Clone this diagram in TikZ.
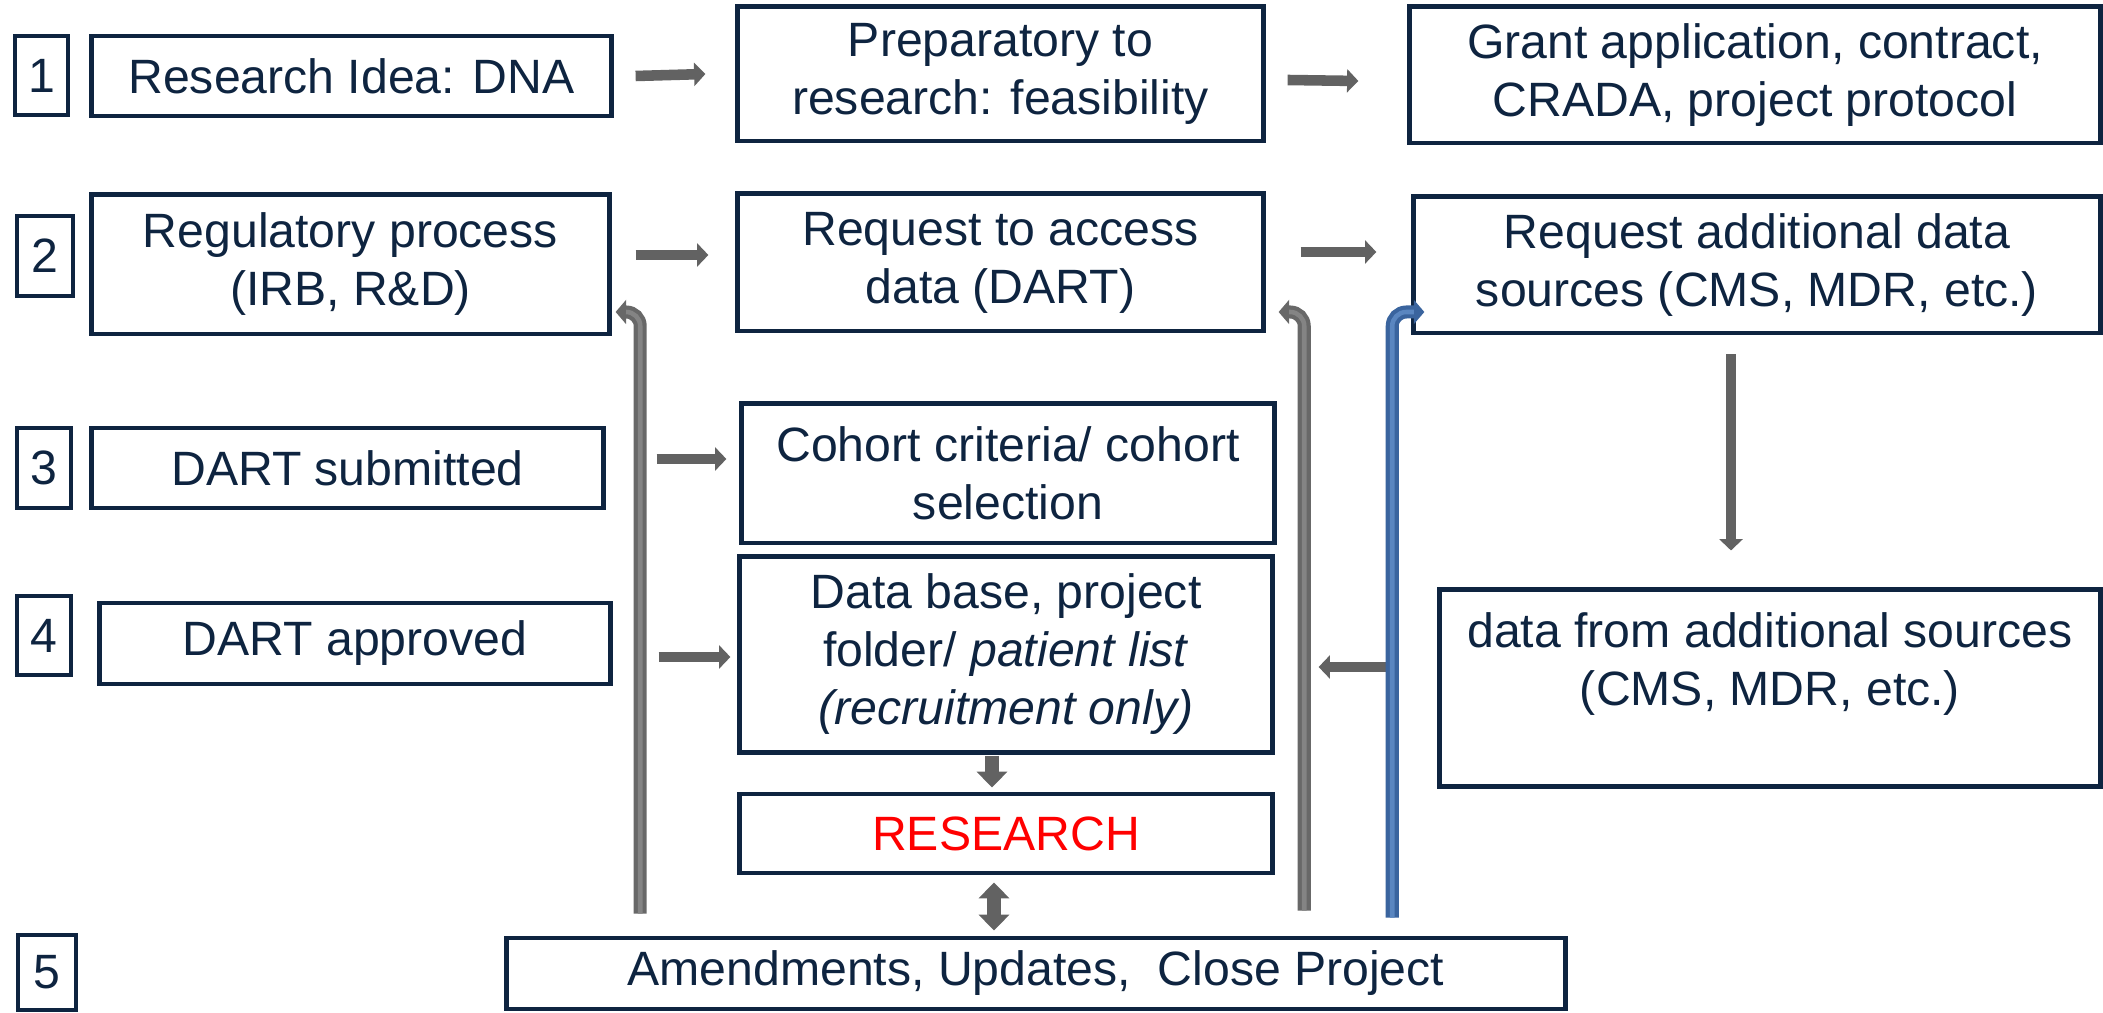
\documentclass[tikz,border=0pt]{standalone}
\usepackage{fontspec}
\setmainfont{Liberation Sans}
\usepackage{tikz}
\usetikzlibrary{calc,arrows.meta,positioning}
\definecolor{navy}{RGB}{14,36,64}
\definecolor{arrgray}{RGB}{98,98,98}
\definecolor{linegray}{RGB}{104,104,104}
\definecolor{linegrayhi}{RGB}{132,132,132}
\definecolor{lineblue}{RGB}{58,100,158}
\definecolor{linebluehi}{RGB}{90,134,192}
\tikzset{
  box/.style={draw=navy,line width=1.4pt,text=navy,align=center,inner sep=2pt,font=\fontsize{13.7}{16.5}\selectfont},
  harr/.style={draw=arrgray,line width=3pt,-{Triangle[width=6.5pt,length=3.2pt]}},
  varr/.style={draw=arrgray,line width=3.8pt,-{Triangle[width=8.5pt,length=4.5pt]}},
  fbline/.style 2 args={draw=#1,line width=3.7pt,rounded corners=4pt,-{Triangle[width=6.8pt,length=3pt]},
    postaction={draw=#2,line width=1.3pt,-,shorten >=3pt}}
}
\begin{document}
\begin{tikzpicture}[x=0.01cm,y=-0.01cm]
              \useasboundingbox(0,0)rectangle(2103,1013);
              \node[box,minimum width=0.53cm,minimum height=0.79cm](n1)at(41.5,75.5){1};
              \node[box,minimum width=5.19cm,minimum height=0.80cm](idea)at(351.5,76){Research Idea: DNA};
              \node[box,minimum width=5.25cm,minimum height=1.34cm](prep)at(1000.5,74){Preparatory to\\research: feasibility};
              \node[box,minimum width=6.90cm,minimum height=1.36cm](grant)at(1755,75){Grant application, contract,\\CRADA, project protocol};
              \node[box,minimum width=0.56cm,minimum height=0.80cm](n2)at(45,256){2};
              \node[box,minimum width=5.17cm,minimum height=1.39cm](reg)at(350.5,264.5){Regulatory process\\(IRB, R\&D)};
              \node[box,minimum width=5.25cm,minimum height=1.37cm](access)at(1000.5,262.5){Request to access\\data (DART)};
              \node[box,minimum width=6.86cm,minimum height=1.36cm](addreq)at(1757,265){Request additional data\\sources (CMS, MDR, etc.)};
              \node[box,minimum width=0.54cm,minimum height=0.80cm](n3)at(44,468){3};
              \node[box,minimum width=5.11cm,minimum height=0.80cm](submitted)at(347.5,468){DART submitted};
              \node[box,minimum width=5.32cm,minimum height=1.39cm](cohort)at(1008,473.5){Cohort criteria/ cohort\\selection};
              \node[box,minimum width=0.54cm,minimum height=0.79cm](n4)at(44,635.5){4};
              \node[box,minimum width=5.10cm,minimum height=0.81cm](approved)at(355,643.5){DART approved};
              \node[box,minimum width=5.32cm,minimum height=1.95cm](database)at(1006,654.5){Data base, project\\folder/ \textit{patient list}\\\textit{(recruitment only)}};
              \node[box,minimum width=5.32cm,minimum height=0.79cm,text=red](research)at(1006,833.5){RESEARCH};
              \node[box,minimum width=6.60cm,minimum height=1.96cm](addsrc)at(1770,688){data from additional sources\\(CMS, MDR, etc.)\\\mbox{}};
              \node[box,minimum width=0.58cm,minimum height=0.75cm](n5)at(47,972.5){5};
              \node[box,minimum width=10.58cm,minimum height=0.71cm](amend)at(1036,973.5){Amendments, Updates,\ \ Close Project};
              \draw[harr]($(idea.east)+(22,0)$)--($(prep.west)+(-30,0)$);
              \draw[harr]($(prep.east)+(22,6)$)--($(grant.west)+(-49,6)$);
              \draw[harr]($(reg.east)+(24,-9.5)$)--($(access.west)+(-27,-7.5)$);
              \draw[harr]($(access.east)+(35,-10.5)$)--($(addreq.west)+(-35,-13)$);
              \draw[harr]($(submitted.east)+(51,-9)$)--($(cohort.west)+(-13,-14.5)$);
              \draw[harr]($(approved.east)+(46,13.5)$)--($(database.west)+(-7,2.5)$);
              \draw[varr]($(database.south)+(-14,1)$)--($(research.north)+(-14,-4)$);
              \draw[varr,{Triangle[width=8.5pt,length=4.5pt]}-{Triangle[width=8.5pt,length=4.5pt]}]($(research.south)+(-12,7)$)--($(amend.north)+(-42,-5)$);
              \draw[harr]($(addreq.south)+(-26,19)$)--($(addsrc.north)+(-39,-37)$);
              \draw[harr]($(database.east)+(115,12.5)$)--($(database.east)+(44,12.5)$);
              \draw[fbline={linegray}{linegrayhi}]($(amend.north west)+(136,-22)$)|-($(reg.east)+(4,47.5)$);
              \draw[fbline={linegray}{linegrayhi}]($(amend.north west)+(800,-25)$)|-($(access.east)+(13,49.5)$);
              \draw[fbline={lineblue}{linebluehi}]($(amend.north west)+(888,-18)$)|-($(addreq.west)+(13,47)$);
            \end{tikzpicture}
\end{document}
